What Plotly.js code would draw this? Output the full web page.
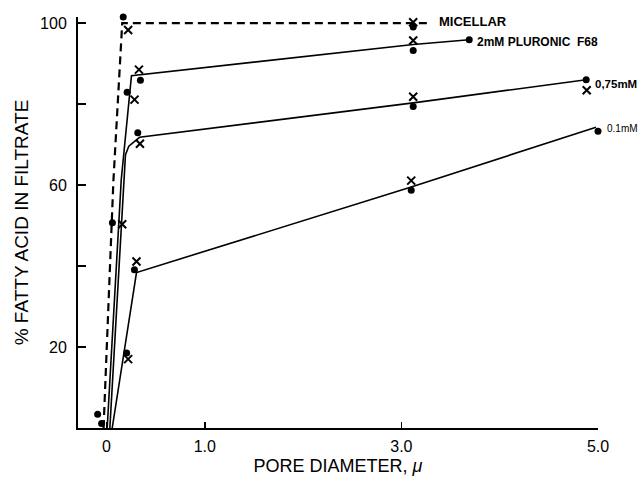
<!DOCTYPE html>
<html>
<head>
<meta charset="utf-8">
<script src="https://cdn.plot.ly/plotly-3.0.1.min.js"></script>
<style>html,body{margin:0;padding:0;background:#fff;}#chart{width:642px;height:478px;}</style>
</head>
<body>
<div id="chart"></div>
<script>
// ---- data ----
// connecting curves
const micellarLineX = [-0.03, 0.07, 0.16, 3.12, 3.30];
const micellarLineY = [0, 61, 100, 100, 100];
const f68LineX = [0.007, 0.15, 0.254, 3.12, 3.69];
const f68LineY = [0, 61.3, 87.0, 94.7, 95.9];
const mM075LineX = [0.034, 0.183, 0.193, 0.227, 0.336, 3.12, 4.88];
const mM075LineY = [0, 61.3, 67.5, 69.6, 71.8, 80.3, 86.0];
const mM01LineX = [0.058, 0.305, 3.10, 4.98];
const mM01LineY = [0, 38.4, 59.5, 74.3];

// measured points: filled circles
const micellarDotX = [-0.09, 0.06, 0.17, 3.12];
const micellarDotY = [3.4, 50.7, 101.5, 99.0];
const f68DotX = [-0.05, 0.21, 0.345, 3.12, 3.69];
const f68DotY = [1.1, 82.9, 85.9, 93.2, 95.9];
const mM075DotX = [0.318, 3.12, 4.88];
const mM075DotY = [72.9, 79.4, 86.0];
const mM01DotX = [0.205, 0.284, 3.10, 5.00];
const mM01DotY = [18.5, 39.1, 58.7, 73.3];

// measured points: crosses
const micellarCrossX = [0.22, 3.12];
const micellarCrossY = [98.3, 100.2];
const f68CrossX = [0.16, 0.285, 0.33, 3.12];
const f68CrossY = [50.3, 81.1, 88.5, 95.7];
const mM075CrossX = [0.34, 3.12, 4.885];
const mM075CrossY = [70.2, 81.8, 83.4];
const mM01CrossX = [0.22, 0.305, 3.10, 5.02];
const mM01CrossY = [17.0, 41.1, 61.1, 77.1];

// stray stroke below the origin
const strokeX = [-0.175];
const strokeY = [-0.6];

// series labels (anchor point + pixel nudge)
const labelText = ["MICELLAR", "2mM PLURONIC  F68", "0,75mM", "0.1mM"];
const labelX = [3.36, 3.75, 4.95, 5.0];
const labelY = [100.3, 95.4, 84.9, 74.0];
const labelShift = [0, 0, 0, 7];
const labelSizes = [13, 12, 11.5, 10];
const labelWeights = ["bold", "bold", "bold", "normal"];

// axis ticks
const xTickVals = [0, 1, 3, 5];
const xTickText = ["0", "1.0", "3.0", "5.0"];
const yTickVals = [20, 40, 60, 80, 100];
const yTickText = ["20", "", "60", "", "100"];

// ---- build traces ----
const black = "#000";
function line(x, y, dash, w) {
  return {x: x, y: y, type: "scatter", mode: "lines", hoverinfo: "skip",
          line: {color: black, width: w, dash: dash}, cliponaxis: false};
}
function dots(x, y) {
  return {x: x, y: y, type: "scatter", mode: "markers", cliponaxis: false,
          marker: {symbol: "circle", size: 7, color: black}};
}
function crosses(x, y) {
  return {x: x, y: y, type: "scatter", mode: "markers", cliponaxis: false,
          marker: {symbol: "x-thin-open", size: 8, color: black, line: {color: black, width: 2}}};
}
const data = [
  line(micellarLineX, micellarLineY, "8px,5px", 2.2),
  line(f68LineX, f68LineY, "solid", 1.6),
  line(mM075LineX, mM075LineY, "solid", 1.6),
  line(mM01LineX, mM01LineY, "solid", 1.6),
  dots(micellarDotX, micellarDotY), dots(f68DotX, f68DotY),
  dots(mM075DotX, mM075DotY), dots(mM01DotX, mM01DotY),
  crosses(micellarCrossX, micellarCrossY), crosses(f68CrossX, f68CrossY),
  crosses(mM075CrossX, mM075CrossY), crosses(mM01CrossX, mM01CrossY),
  {x: strokeX, y: strokeY, type: "scatter", mode: "markers", cliponaxis: false,
   marker: {symbol: "line-ne-open", size: 13, line: {color: black, width: 3}}}
];

const annotations = labelText.map((t, i) => ({
  x: labelX[i], y: labelY[i], xref: "x", yref: "y", text: t, showarrow: false,
  xanchor: "left", yanchor: "middle", xshift: labelShift[i],
  font: {family: "Liberation Sans, Arial, sans-serif", size: labelSizes[i], color: black, weight: labelWeights[i]}
}));

const layout = {
  width: 642, height: 478,
  margin: {l: 78, r: 44, t: 17, b: 50, pad: 0},
  paper_bgcolor: "#fff", plot_bgcolor: "#fff",
  showlegend: false,
  font: {family: "Liberation Sans, Arial, sans-serif", color: black},
  xaxis: {
    range: [-0.29, 5.0], showgrid: false, zeroline: false,
    showline: true, linecolor: black, linewidth: 2,
    ticks: "inside", ticklen: 6, tickwidth: 1.5, tickcolor: black,
    tickmode: "array", tickvals: xTickVals, ticktext: xTickText,
    tickfont: {size: 16, color: black}, ticklabelstandoff: 3,
    title: {text: "PORE DIAMETER, <i>μ</i>", font: {size: 18, color: black}, standoff: 5}
  },
  yaxis: {
    range: [0, 101.5], showgrid: false, zeroline: false,
    showline: true, linecolor: black, linewidth: 2,
    ticks: "inside", ticklen: 8, tickwidth: 1.5, tickcolor: black,
    tickmode: "array", tickvals: yTickVals, ticktext: yTickText,
    tickfont: {size: 16, color: black}, ticklabelstandoff: 6,
    title: {text: "% FATTY ACID IN FILTRATE", font: {size: 19, color: black}, standoff: 6}
  },
  annotations: annotations
};

Plotly.newPlot("chart", data, layout, {staticPlot: true, displayModeBar: false});
</script>
</body>
</html>
